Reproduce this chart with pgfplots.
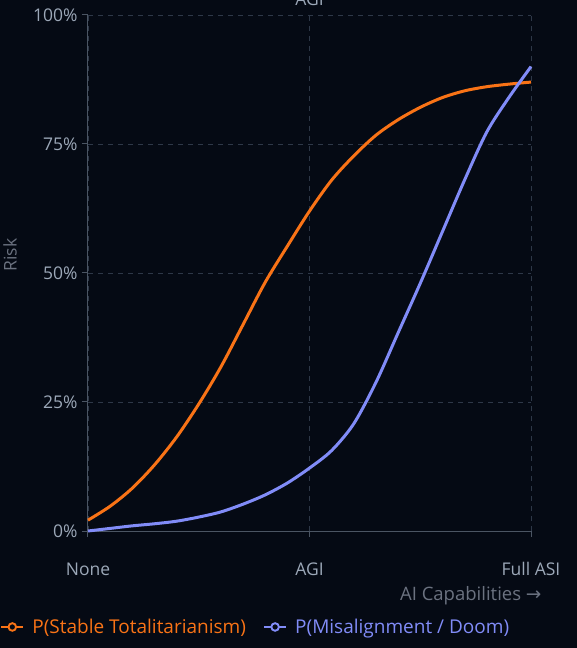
\documentclass[border=0pt]{standalone}
\usepackage{pgfplots}
\pgfplotsset{compat=1.18}
\usepackage{fontspec}
\setmainfont{Open Sans}
\newfontfamily\dejavu{DejaVu Sans}
\definecolor{bg}{HTML}{050A14}
\definecolor{orangeS}{HTML}{F97316}
\definecolor{blueS}{HTML}{818CF8}
\definecolor{gridc}{HTML}{2E3848}
\definecolor{axisc}{HTML}{4B5563}
\definecolor{tickc}{HTML}{9CA8B8}
\definecolor{labc}{HTML}{6B7280}
\begin{document}
\begin{tikzpicture}
\useasboundingbox (-88pt,-117pt) rectangle (489pt,531pt);
\fill[bg] (-88pt,-117pt) rectangle (489pt,531pt);
\begin{axis}[
  scale only axis, width=443pt, height=516pt,
  anchor=south west, at={(0pt,0pt)},
  xmin=0, xmax=100, ymin=0, ymax=100,
  axis x line*=bottom, axis y line*=left,
  axis line style={axisc, line width=1pt},
  xtick={0,50,100}, xticklabels={None,AGI,Full ASI},
  ytick={0,25,50,75,100}, yticklabels={0\%,25\%,50\%,75\%,100\%},
  tick style={axisc, line width=1pt},
  tick align=outside, major tick length=6pt,
  grid=major, major grid style={gridc, dashed, dash pattern=on 5pt off 5pt, line width=0.9pt},
  font=\fontsize{17.5}{20}\selectfont,
  tick label style={tickc, font=\fontsize{17.5}{20}\selectfont},
  /pgf/number format/assume math mode=true,
  xticklabel style={yshift=-22pt},
  yticklabel style={xshift=-1pt},
  xlabel={AI Capabilities {\dejavu →}},
  xlabel style={labc, at={(axis description cs:1.0316,-0.126)}, anchor=east, font=\fontsize{18.5}{21}\selectfont},
  ylabel={Risk},
  ylabel style={labc, at={(axis description cs:-0.176,0.535)}, anchor=center, font=\fontsize{17.5}{20}\selectfont},
  clip=false,
  legend columns=2,
  legend style={at={(axis description cs:-0.1986,-0.186)}, anchor=west, draw=none, fill=none,
    font=\fontsize{19}{22}\selectfont, column sep=6pt, inner sep=0pt,
    /tikz/every even column/.append style={column sep=15pt}},
  legend cell align=left,
]
\addplot[orangeS, line width=3pt, smooth, tension=0.5,
  legend image code/.code={\draw[orangeS, line width=2.2pt] (0pt,0pt)--(22pt,0pt); \draw[orangeS, line width=1.9pt, fill=bg] (11pt,0pt) circle (3.8pt);}]
coordinates {
(0,2.1) (5,4.8) (10,8.3) (15,12.8) (20,18.2) (25,24.6) (30,31.8) (35,40) (40,48.2) (45,55.2) (50,62) (55,68) (60,72.7) (65,76.7) (70,79.7) (75,82.1) (80,84) (85,85.3) (90,86.1) (95,86.6) (100,87)
};
\addlegendentry{\textcolor{orangeS}{P(Stable Totalitarianism)}}
\addplot[blueS, line width=3pt, smooth, tension=0.5,
  legend image code/.code={\draw[blueS, line width=2.2pt] (0pt,0pt)--(22pt,0pt); \draw[blueS, line width=1.9pt, fill=bg] (11pt,0pt) circle (3.8pt);}]
coordinates {
(0,0) (5,0.5) (10,1) (15,1.4) (20,1.9) (25,2.7) (30,3.7) (35,5.2) (40,7) (45,9.3) (50,12.2) (55,15.6) (60,20.8) (65,28.8) (70,38.4) (75,48) (80,58) (85,68) (90,77.3) (95,84) (100,90)
};
\addlegendentry{\textcolor{blueS}{P(Misalignment / Doom)}}
\node[tickc, anchor=base, font=\fontsize{17.5}{20}\selectfont] at ([yshift=9pt]axis cs:50,100) {AGI};
\end{axis}
\end{tikzpicture}
\end{document}
